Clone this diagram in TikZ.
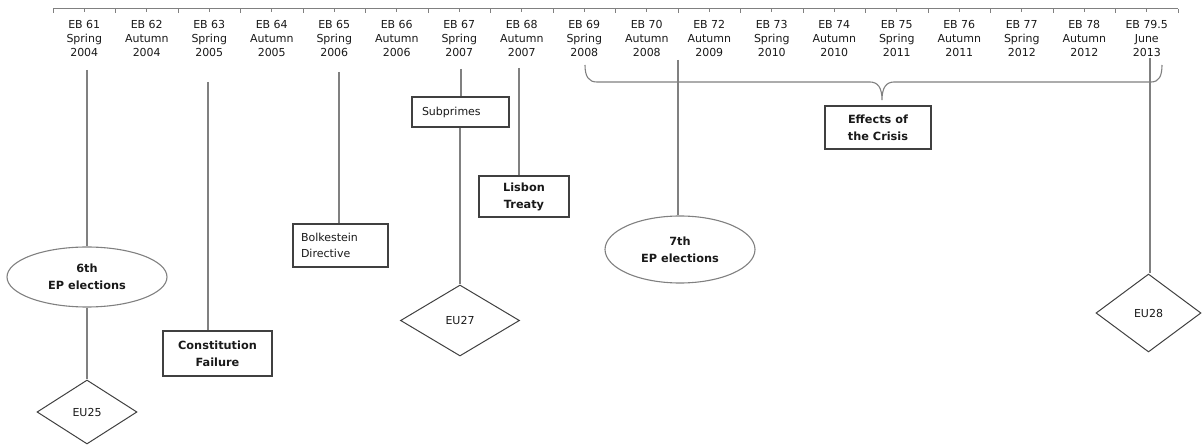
\documentclass[tikz,border=0pt]{standalone}
\usepackage{fontspec}
\setmainfont{DejaVu Sans}
\usetikzlibrary{shapes.geometric}
\definecolor{linegray}{RGB}{128,128,128}
\definecolor{boxgray}{RGB}{64,64,64}
\definecolor{txt}{RGB}{25,25,25}
\tikzset{
  conn/.style={draw=linegray, line width=1.1pt},
  lab/.style={inner sep=0pt, anchor=north, align=center, text=txt, font=\fontsize{11}{14}\selectfont},
  evbox/.style={draw=boxgray, line width=1.1pt, rectangle, inner sep=0pt, align=center, text=txt, font=\bfseries\fontsize{11.3}{17}\selectfont},
  evplain/.style={draw=boxgray, line width=1.1pt, rectangle, inner ysep=0pt, align=left, text=txt, font=\fontsize{11}{16}\selectfont},
  evell/.style={draw=linegray, line width=1.1pt, ellipse, inner sep=0pt, align=center, text=txt, font=\bfseries\fontsize{11.3}{17}\selectfont},
  evdia/.style={draw=boxgray, line width=1pt, diamond, inner sep=0pt, text=txt, font=\fontsize{11}{14}\selectfont},
}
\begin{document}
\begin{tikzpicture}[x=1pt,y=-1pt]
\useasboundingbox (0,0) rectangle (1203,446);
% axis
\coordinate (axL) at (53,9);
\coordinate (axR) at (1178,9);
\draw[linegray, line width=1pt] (axL) -- (axR);
\foreach \i in {0,...,18} {
  \draw[linegray, line width=1pt] (53+62.5*\i,9) -- (53+62.5*\i,13);
}
\foreach \i in {0,...,17} {
  \draw[linegray, line width=0.8pt] (84.25+62.5*\i,9) -- (84.25+62.5*\i,12);
}
% labels
\foreach \n/\t [count=\k from 0] in {
  EB 61/Spring\\2004, EB 62/Autumn\\2004, EB 63/Spring\\2005, EB 64/Autumn\\2005,
  EB 65/Spring\\2006, EB 66/Autumn\\2006, EB 67/Spring\\2007, EB 68/Autumn\\2007,
  EB 69/Spring\\2008, EB 70/Autumn\\2008, EB 72/Autumn\\2009, EB 73/Spring\\2010,
  EB 74/Autumn\\2010, EB 75/Spring\\2011, EB 76/Autumn\\2011, EB 77/Spring\\2012,
  EB 78/Autumn\\2012, EB 79.5/June\\2013} {
  \node[lab] (lab\k) at (84.25+62.5*\k,20.5) {\n\\\t};
}
% 6th EP elections
\coordinate (t6) at (87,70);
\node[evell, minimum width=160pt, minimum height=60pt] (e6) at (87,277) {6th\\EP elections};
\node[evdia, minimum width=100pt, minimum height=64pt] (eu25) at (87,412) {EU25};
\draw[conn] (t6) -- (e6.north);
\draw[conn] (e6.south) -- (eu25.north);
% Constitution failure
\coordinate (tcf) at (208,82);
\node[evbox, minimum width=109pt, minimum height=45pt] (cf) at (217.5,353.5) {Constitution\\Failure};
\draw[conn] (tcf) -- (tcf |- cf.north);
% Bolkestein
\coordinate (tbk) at (339,72);
\node[evplain, text width=79pt, inner xsep=8pt, minimum height=43pt] (bk) at (340.5,245.5) {Bolkestein\\Directive};
\draw[conn] (tbk) -- (tbk |- bk.north);
% Subprimes
\coordinate (tsp) at (461,69);
\node[evplain, text width=77pt, inner xsep=10pt, minimum height=30pt] (sp) at (460.5,112) {Subprimes};
\node[evdia, minimum width=119pt, minimum height=71pt] (eu27) at (460,320.5) {EU27};
\draw[conn] (tsp) -- (tsp |- sp.north);
\draw[conn] (eu27.north |- sp.south) -- (eu27.north);
% Lisbon
\coordinate (tls) at (519,68);
\node[evbox, minimum width=90pt, minimum height=41pt] (ls) at (524,196.5) {Lisbon\\Treaty};
\draw[conn] (tls) -- (tls |- ls.north);
% 7th EP elections
\coordinate (t7) at (678,60);
\node[evell, minimum width=150pt, minimum height=67pt] (e7) at (680,249.5) {7th\\EP elections};
\draw[conn] (t7) -- (t7 |- e7.north);
% Brace
\coordinate (bL) at (585,65);
\coordinate (bR) at (1162,65);
\coordinate (bT) at (882,100);
\draw[conn] (bL) .. controls (585,77) and (589,82) .. (597,82) -- (870,82)
  .. controls (878,82) and (882,88) .. (bT)
  .. controls (882,88) and (886,82) .. (894,82) -- (1151,82)
  .. controls (1159,82) and (1162,76) .. (bR);
% Effects
\node[evbox, minimum width=106pt, minimum height=43pt] (ef) at (878,127.5) {Effects of\\the Crisis};
% EU28
\coordinate (t28) at (1150,58);
\node[evdia, minimum width=105pt, minimum height=78pt] (eu28) at (1148.5,313) {EU28};
\draw[conn] (t28) -- (t28 |- eu28.north);
\end{tikzpicture}
\end{document}
